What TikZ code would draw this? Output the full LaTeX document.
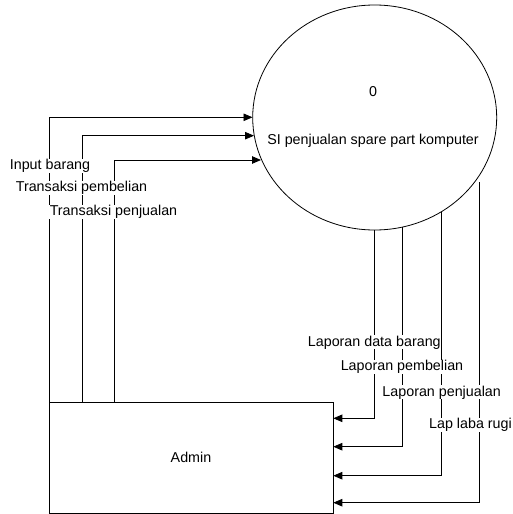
\documentclass[tikz,border=0pt]{standalone}
\usepackage{fontspec}
\setmainfont{Liberation Sans}
\usetikzlibrary{arrows.meta,shapes.geometric}
\begin{document}
\begin{tikzpicture}[x=1pt,y=-1pt,
  flow/.style={draw=black,line width=0.8pt,-{Triangle[length=9pt,width=7.5pt]}},
  lbl/.style={fill=white,inner sep=0.5pt,font=\fontsize{14.3}{17}\selectfont},
  txt/.style={inner sep=0pt,font=\fontsize{14.3}{17}\selectfont}]
\useasboundingbox (0,0) rectangle (513,514);
\node[draw,line width=0.8pt,ellipse,minimum width=244pt,minimum height=225pt,inner sep=0pt] (proc) at (374.7,117.5) {};
\node[txt] (num) at (373,92) {0};
\node[txt] (ptitle) at (373,141) {SI penjualan spare part komputer};
\path[draw,line width=0.8pt] (49.3,402) rectangle (333.3,513.3);
\node[txt] (admin) at (191,457) {Admin};
% inputs
\coordinate (i1s) at (49.3,402); \coordinate (i1e) at (252.5,117.3);
\coordinate (i2s) at (82,402);   \coordinate (i2e) at (254,135.7);
\coordinate (i3s) at (114.7,402);\coordinate (i3e) at (261,160);
\draw[flow] (i1s) |- (i1e);
\draw[flow] (i2s) |- (i2e);
\draw[flow] (i3s) |- (i3e);
% outputs
\coordinate (o1s) at (374,230);   \coordinate (o1e) at (333.3,418.3);
\coordinate (o2s) at (402.3,227); \coordinate (o2e) at (333.3,446.7);
\coordinate (o3s) at (441.7,211.5); \coordinate (o3e) at (333.3,475.7);
\coordinate (o4s) at (479.3,182); \coordinate (o4e) at (333.3,502.7);
\draw[flow] (o1s) |- (o1e);
\draw[flow] (o2s) |- (o2e);
\draw[flow] (o3s) |- (o3e);
\draw[flow] (o4s) |- (o4e);
% labels
\node[lbl] (l1) at (50,165.7) {Input barang};
\node[lbl] (l2) at (81.5,188) {Transaksi pembelian};
\node[lbl] (l3) at (113.5,211.7) {Transaksi penjualan};
\node[lbl] (l4) at (374.3,342.3) {Laporan data barang};
\node[lbl] (l5) at (402,367) {Laporan pembelian};
\node[lbl] (l6) at (441.7,392.3) {Laporan penjualan};
\node[lbl,anchor=east] (l7) at (512.5,425) {Lap laba rugi};
\end{tikzpicture}
\end{document}
